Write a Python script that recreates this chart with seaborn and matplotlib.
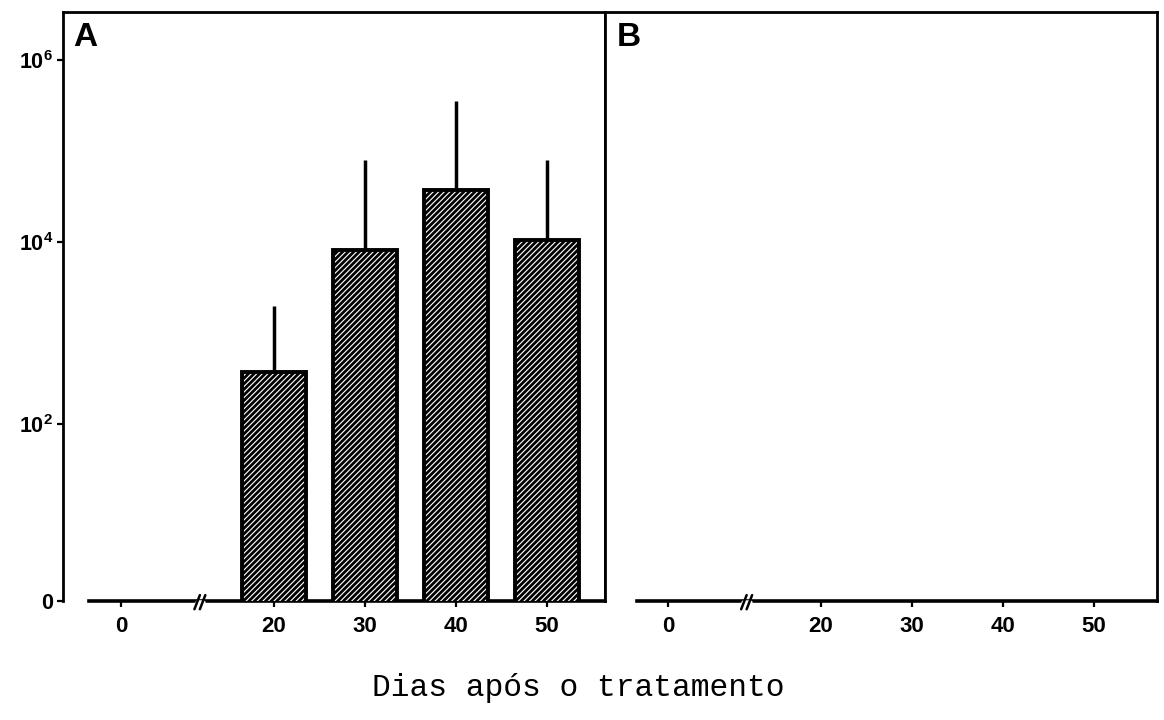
import numpy as np
import pandas as pd
import matplotlib
matplotlib.use("Agg")
import matplotlib.pyplot as plt
import seaborn as sns
from matplotlib.ticker import FixedLocator, FixedFormatter, NullLocator
from matplotlib.transforms import blended_transform_factory

# Days after treatment and the two panels' values (upper whisker = mean + error)
days = [0, 20, 30, 40, 50]
day_labels = ["0", "20", "30", "40", "50"]
mean_a = [0, 370, 8100, 37000, 10500]
upper_a = [0, 2000, 80000, 350000, 80000]
mean_b = [0, 0, 0, 0, 0]
upper_b = [0, 0, 0, 0, 0]
panel_labels = ["A", "B"]
y_tick_values = [10 ** 0.055, 1e2, 1e4, 1e6]
y_tick_labels = ["0", r"$\mathbf{10^{2}}$", r"$\mathbf{10^{4}}$", r"$\mathbf{10^{6}}$"]
x_title = "Dias após o tratamento"

sns.set_style("ticks")
plt.rcParams["font.family"] = ["Liberation Sans", "DejaVu Sans"]
plt.rcParams["mathtext.fontset"] = "custom"
plt.rcParams["mathtext.rm"] = "Liberation Sans"
plt.rcParams["mathtext.bf"] = "Liberation Sans:bold"
plt.rcParams["hatch.linewidth"] = 2.0
plt.rcParams["hatch.color"] = "black"
for key in ["text.color", "axes.labelcolor", "xtick.color", "ytick.color",
            "xtick.labelcolor", "ytick.labelcolor"]:
    plt.rcParams[key] = "black"

W, H = 1164, 720
fig = plt.figure(figsize=(W / 100, H / 100), dpi=100)

# broken x axis: the gap between day 0 and day 20 is compressed
BREAK_POS = -0.81


def axis_pos(d):
    return (d - 20) / 10 if d >= 20 else d / 10 - 1.68


def px_box(x0, x1, y0, y1):
    return [x0 / W, 1 - y1 / H, (x1 - x0) / W, (y1 - y0) / H]


ax_a = fig.add_axes(px_box(63, 605, 12, 601))
ax_b = fig.add_axes(px_box(605, 1157, 12, 601))
panels = [
    (ax_a, mean_a, upper_a, (-2.32, 3.64), (-2.03, 3.64)),
    (ax_b, mean_b, upper_b, (-2.37, 3.69), (-2.02, 3.69)),
]

ylim = (10 ** 0.055, 10 ** 6.527)
for i, (ax, mean, upper, xlim, line_span) in enumerate(panels):
    df = pd.DataFrame({"day": days, "mean": mean, "upper": upper})
    df["pos"] = df["day"].apply(axis_pos)
    shown = df[df["mean"] > 0]
    if len(shown):
        sns.barplot(data=shown, x="pos", y="mean", native_scale=True,
                    width=0.70, color="white", edgecolor="black",
                    linewidth=2.8, hatch="//////", errorbar=None, ax=ax,
                    zorder=3)
        ax.vlines(shown["pos"], shown["mean"], shown["upper"],
                  color="black", linewidth=2.5, zorder=2)
    ax.set_yscale("log")
    ax.set_ylim(*ylim)
    ax.set_xlim(*xlim)
    ax.yaxis.set_minor_locator(NullLocator())
    ax.xaxis.set_minor_locator(NullLocator())

    ax.xaxis.set_major_locator(FixedLocator([axis_pos(d) for d in days]))
    ax.xaxis.set_major_formatter(FixedFormatter(day_labels))
    ax.tick_params(axis="x", direction="out", length=4, width=1.6,
                   pad=7, labelsize=16, color="black", labelcolor="black")
    for t in ax.get_xticklabels():
        t.set_fontweight("bold")
    ax.set_xlabel("")
    ax.set_ylabel("")

    for side in ["left", "right", "top", "bottom"]:
        ax.spines[side].set_visible(True)
        ax.spines[side].set_color("black")
        ax.spines[side].set_linewidth(2.0)
    ax.spines["bottom"].set_linewidth(2.6)
    ax.spines["bottom"].set_bounds(*line_span)

    # axis break marks "//"
    tr = blended_transform_factory(ax.transData, ax.transAxes)
    ax.plot([BREAK_POS - 0.03, BREAK_POS + 0.03], [-0.003, -0.003],
            color="white", linewidth=4, transform=tr, clip_on=False, zorder=5)
    for dx in (-0.035, 0.025):
        ax.plot([BREAK_POS + dx - 0.03, BREAK_POS + dx + 0.03],
                [-0.014, 0.010], color="black", linewidth=1.8,
                transform=tr, clip_on=False, zorder=6)

    ax.text(0.018 if i == 0 else 0.022, 0.983, panel_labels[i],
            transform=ax.transAxes, ha="left", va="top",
            fontsize=24, fontweight="bold", color="black")
    ax.grid(False)

ax_a.yaxis.set_major_locator(FixedLocator(y_tick_values))
ax_a.yaxis.set_major_formatter(FixedFormatter(y_tick_labels))
ax_a.tick_params(axis="y", direction="out", length=4, width=1.6, pad=3,
                 labelsize=15.5, color="black", labelcolor="black")
for t in ax_a.get_yticklabels():
    t.set_fontweight("bold")

ax_b.yaxis.set_major_locator(NullLocator())
ax_b.tick_params(axis="y", left=False, labelleft=False)

fig.text(578 / W, 1 - 688 / H, x_title, ha="center", va="center",
         family=["Liberation Mono", "DejaVu Sans Mono"], fontsize=22.5,
         color="black")

fig.savefig("out.png", dpi=100, facecolor="white")
